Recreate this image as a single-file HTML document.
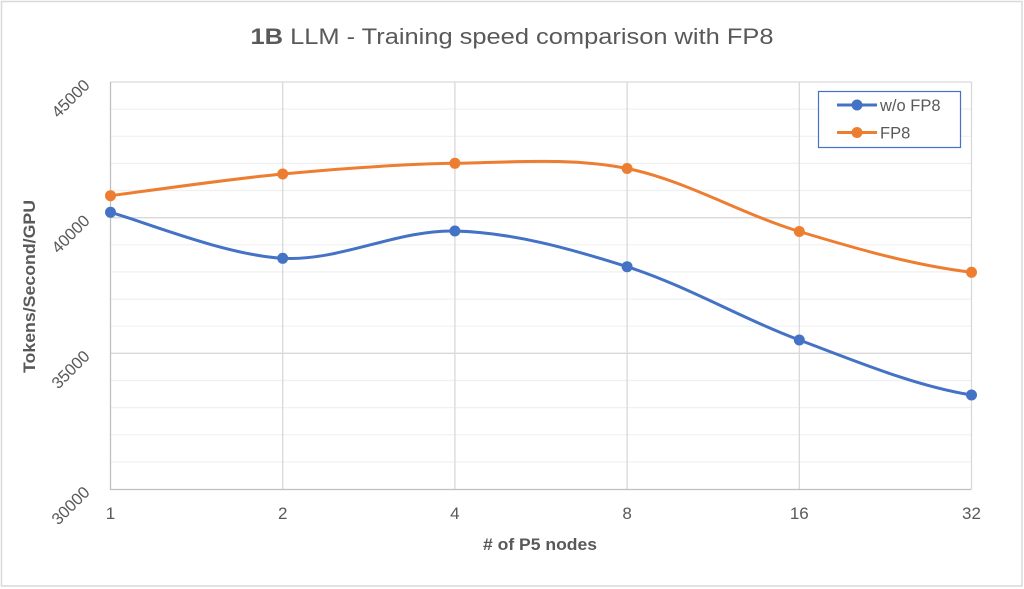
<!DOCTYPE html>
<html>
<head>
<meta charset="utf-8">
<style>
html,body{margin:0;padding:0;background:#fff;}
svg{display:block;}
text{font-family:"Liberation Sans",sans-serif;fill:#595959;}
</style>
</head>
<body>
<svg width="1024" height="589" viewBox="0 0 1024 589" xmlns="http://www.w3.org/2000/svg">
<rect x="0" y="0" width="1024" height="589" fill="#fff"/>
<rect x="1.5" y="1.5" width="1020.5" height="584.5" fill="none" stroke="#D9D9D9" stroke-width="1.5"/>

<text x="512" y="44" text-anchor="middle" font-size="22.5" textLength="523" lengthAdjust="spacingAndGlyphs"><tspan font-weight="bold">1B</tspan> LLM - Training speed comparison with FP8</text>

<!-- minor gridlines -->
<g stroke="#F0F0F0" stroke-width="1.2">
<line x1="110.5" x2="971.5" y1="109.1" y2="109.1"/>
<line x1="110.5" x2="971.5" y1="136.3" y2="136.3"/>
<line x1="110.5" x2="971.5" y1="163.4" y2="163.4"/>
<line x1="110.5" x2="971.5" y1="190.5" y2="190.5"/>
<line x1="110.5" x2="971.5" y1="244.8" y2="244.8"/>
<line x1="110.5" x2="971.5" y1="271.9" y2="271.9"/>
<line x1="110.5" x2="971.5" y1="299.1" y2="299.1"/>
<line x1="110.5" x2="971.5" y1="326.2" y2="326.2"/>
<line x1="110.5" x2="971.5" y1="380.5" y2="380.5"/>
<line x1="110.5" x2="971.5" y1="407.6" y2="407.6"/>
<line x1="110.5" x2="971.5" y1="434.7" y2="434.7"/>
<line x1="110.5" x2="971.5" y1="461.9" y2="461.9"/>
</g>
<!-- major gridlines -->
<g stroke="#D9D9D9" stroke-width="1.3">
<line x1="110.5" x2="971.5" y1="82" y2="82"/>
<line x1="110.5" x2="971.5" y1="217.7" y2="217.7"/>
<line x1="110.5" x2="971.5" y1="353.3" y2="353.3"/>
<line x1="282.7" x2="282.7" y1="82" y2="489"/>
<line x1="454.9" x2="454.9" y1="82" y2="489"/>
<line x1="627.1" x2="627.1" y1="82" y2="489"/>
<line x1="799.3" x2="799.3" y1="82" y2="489"/>
<line x1="971.5" x2="971.5" y1="82" y2="489"/>
</g>
<!-- axes -->
<g stroke="#BFBFBF" stroke-width="1.3">
<line x1="110.5" x2="110.5" y1="82" y2="489.5"/>
<line x1="110" x2="971.5" y1="489.5" y2="489.5"/>
</g>

<!-- y labels -->
<g font-size="16.5" text-anchor="middle">
<text x="0" y="0" dominant-baseline="central" transform="translate(71,99) rotate(-45)">45000</text>
<text x="0" y="0" dominant-baseline="central" transform="translate(71,234.5) rotate(-45)">40000</text>
<text x="0" y="0" dominant-baseline="central" transform="translate(71,370) rotate(-45)">35000</text>
<text x="0" y="0" dominant-baseline="central" transform="translate(71,506) rotate(-45)">30000</text>
</g>

<!-- x labels -->
<g font-size="17" text-anchor="middle">
<text x="110.5" y="519">1</text>
<text x="282.7" y="519">2</text>
<text x="454.9" y="519">4</text>
<text x="627.1" y="519">8</text>
<text x="799.3" y="519">16</text>
<text x="971.5" y="519">32</text>
</g>

<text x="540" y="550" text-anchor="middle" font-size="16.5" font-weight="bold" textLength="114" lengthAdjust="spacingAndGlyphs"># of P5 nodes</text>
<text x="0" y="0" text-anchor="middle" font-size="16.5" font-weight="bold" transform="translate(35,286.5) rotate(-90)" textLength="173" lengthAdjust="spacingAndGlyphs">Tokens/Second/GPU</text>

<!-- series: w/o FP8 -->
<path d="M110.5,212.3 C139.2,220 225.3,255.2 282.7,258.3 C340.1,261.4 397.5,229.6 454.9,231 C512.3,232.4 569.7,248.5 627.1,266.7 C684.5,284.9 741.9,318.6 799.3,340 C856.7,361.4 914.1,385.8 971.5,395" fill="none" stroke="#4472C4" stroke-width="3" stroke-linecap="round"/>
<g fill="#4472C4">
<circle cx="110.5" cy="212.3" r="5.5"/>
<circle cx="282.7" cy="258.3" r="5.5"/>
<circle cx="454.9" cy="231" r="5.5"/>
<circle cx="627.1" cy="266.7" r="5.5"/>
<circle cx="799.3" cy="340" r="5.5"/>
<circle cx="971.5" cy="395" r="5.5"/>
</g>

<!-- series: FP8 -->
<path d="M110.5,195.7 C139.2,192.1 225.3,179.4 282.7,174 C340.1,168.6 397.5,164.2 454.9,163.3 C512.3,162.4 569.7,157.1 627.1,168.5 C684.5,179.9 741.9,214.2 799.3,231.5 C856.7,248.8 914.1,265.5 971.5,272.3" fill="none" stroke="#ED7D31" stroke-width="3" stroke-linecap="round"/>
<g fill="#ED7D31">
<circle cx="110.5" cy="195.7" r="5.5"/>
<circle cx="282.7" cy="174" r="5.5"/>
<circle cx="454.9" cy="163.3" r="5.5"/>
<circle cx="627.1" cy="168.5" r="5.5"/>
<circle cx="799.3" cy="231.5" r="5.5"/>
<circle cx="971.5" cy="272.3" r="5.5"/>
</g>

<!-- legend -->
<rect x="818.5" y="91.5" width="142" height="56" fill="#fff" stroke="#4472C4" stroke-width="1.2"/>
<line x1="837" x2="877" y1="105" y2="105" stroke="#4472C4" stroke-width="3"/>
<circle cx="857" cy="105" r="5.5" fill="#4472C4"/>
<text x="880" y="111" font-size="16.5">w/o FP8</text>
<line x1="837" x2="877" y1="132.5" y2="132.5" stroke="#ED7D31" stroke-width="3"/>
<circle cx="857" cy="132.5" r="5.5" fill="#ED7D31"/>
<text x="880" y="138.5" font-size="16.5">FP8</text>
</svg>
</body>
</html>
